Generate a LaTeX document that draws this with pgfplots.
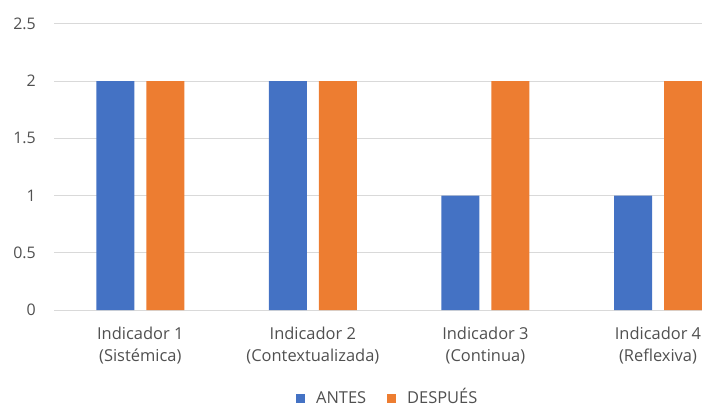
\documentclass[border=0pt]{standalone}
\usepackage{pgfplots}
\pgfplotsset{compat=1.18}
\usepackage{fontspec}
\setmainfont{Open Sans}
\definecolor{antes}{HTML}{4472C4}
\definecolor{despues}{HTML}{ED7D31}
\definecolor{gridc}{HTML}{D9D9D9}
\definecolor{txt}{HTML}{505050}
\begin{document}
\begin{tikzpicture}
\useasboundingbox (-54bp,-98bp) rectangle (648bp,310bp);
\begin{axis}[
  at={(0,0)}, anchor=south west,
  scale only axis,
  width=648bp, height=286bp,
  ybar=12bp, bar width=38bp,
  xmin=-0.5, xmax=3.255,
  ymin=0, ymax=2.5,
  ytick={0,0.5,1,1.5,2,2.5},
  xtick={0,1,2,3},
  xticklabels={{Indicador 1\\(Sistémica)},{Indicador 2\\(Contextualizada)},{Indicador 3\\(Continua)},{Indicador 4\\(Reflexiva)}},
  /pgf/number format/assume math mode=true,
  tick label style={text=txt},
  xticklabel style={align=center, inner sep=0pt, yshift=-17bp,
    font=\fontsize{16.5}{22}\selectfont},
  yticklabel style={inner sep=0pt, xshift=-18bp,
    font=\fontsize{16}{20}\selectfont},
  major tick length=0pt,
  ymajorgrids, grid style={gridc, line width=1bp},
  axis x line*=bottom,
  axis y line*=left,
  x axis line style={draw=gridc, line width=1bp, -},
  y axis line style={draw=none},
  clip=false,
  legend columns=2,
  legend style={draw=none, at={(0.515,-0.308)}, anchor=center,
    font=\fontsize{16.5}{22}\selectfont, text=txt,
    nodes={text height=12bp, text depth=0.2bp},
    /tikz/every odd column/.append style={column sep=9bp},
    /tikz/every even column/.append style={column sep=19bp}},
  legend image code/.code={\fill[#1] (0bp,-4.5bp) rectangle (9bp,4.5bp);},
]
\addplot[fill=antes, draw=none] coordinates {(0,2) (1,2) (2,1) (3,1)};
\addplot[fill=despues, draw=none] coordinates {(0,2) (1,2) (2,2) (3,2)};
\legend{ANTES, DESPUÉS}
\end{axis}
\end{tikzpicture}
\end{document}
